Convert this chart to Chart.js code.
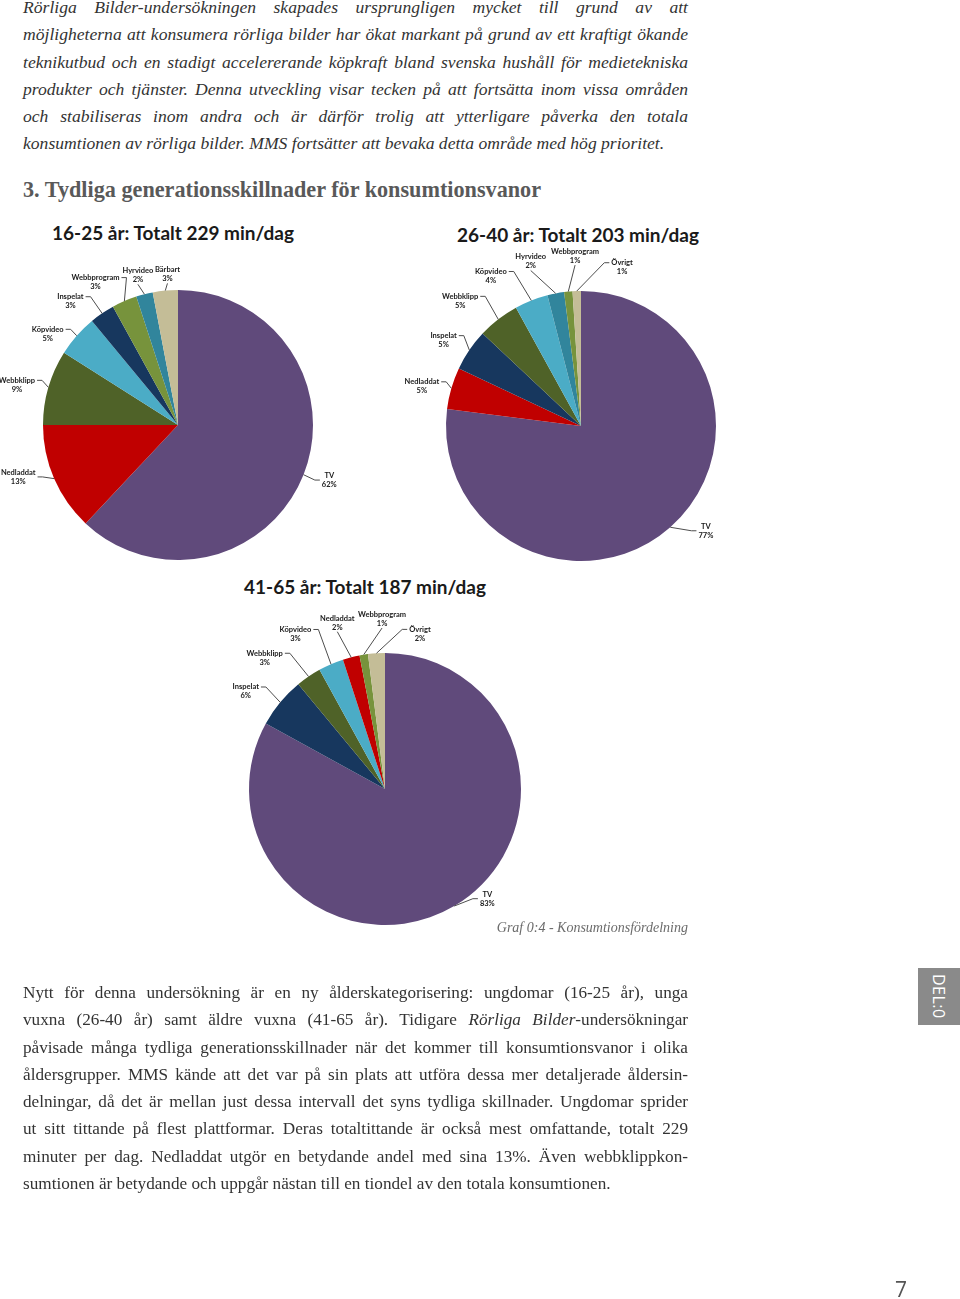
<!DOCTYPE html>
<html lang="sv">
<head>
<meta charset="utf-8">
<title>Konsumtionsfördelning</title>
<script src="https://cdn.jsdelivr.net/npm/chart.js@4.4.1/dist/chart.umd.min.js"></script>
<style>
  html, body { margin: 0; padding: 0; background: #fff; }
  body { width: 960px; height: 1299px; position: relative; overflow: hidden; }
  .layer { position: absolute; left: 0; top: 0; }
  .para { position: absolute; left: 23px; width: 665px; font-family: "Liberation Serif", serif; font-size: 17.2px; line-height: 27.3px; color: #333; }
  .para.it { font-style: italic; font-size: 17.6px; }
  .ln { text-align: justify; text-align-last: justify; height: 27.3px; }
  .ln.last { text-align-last: left; }
  .heading { position: absolute; left: 23px; top: 177px; font-family: "Liberation Serif", serif; font-weight: bold; font-size: 22.2px; color: #595959; white-space: nowrap; }
  .ctitle { position: absolute; font-family: Lato, sans-serif; font-weight: bold; font-size: 19px; color: #1a1a1a; white-space: nowrap; transform: translateX(-50%); }
  .caption { position: absolute; right: 272px; top: 920px; font-family: "Liberation Serif", serif; font-style: italic; font-size: 14px; color: #6b6b6b; }
  .tab { position: absolute; left: 918px; top: 968px; width: 42px; height: 57px; background: #8a8a8a; color: #fff;
         font-family: "Open Sans", sans-serif; font-size: 16px; writing-mode: vertical-rl; display: flex; align-items: center; justify-content: center; letter-spacing: 0.5px; }
  .pageno { position: absolute; left: 895px; top: 1275px; font-family: "Open Sans", sans-serif; font-size: 21px; color: #555; }
</style>
</head>
<body>

<div class="para it" style="top:-6px">
  <div class="ln">Rörliga Bilder-undersökningen skapades ursprungligen mycket till grund av att</div>
  <div class="ln">möjligheterna att konsumera rörliga bilder har ökat markant på grund av ett kraftigt ökande</div>
  <div class="ln">teknikutbud och en stadigt accelererande köpkraft bland svenska hushåll för medietekniska</div>
  <div class="ln">produkter och tjänster. Denna utveckling visar tecken på att fortsätta inom vissa områden</div>
  <div class="ln">och stabiliseras inom andra och är därför trolig att ytterligare påverka den totala</div>
  <div class="ln last">konsumtionen av rörliga bilder. MMS fortsätter att bevaka detta område med hög prioritet.</div>
</div>

<div class="heading">3. Tydliga generationsskillnader för konsumtionsvanor</div>

<div class="ctitle" style="left:173px; top:221px">16-25 år: Totalt 229 min/dag</div>
<div class="ctitle" style="left:578px; top:223px">26-40 år: Totalt 203 min/dag</div>
<div class="ctitle" style="left:365px; top:575px">41-65 år: Totalt 187 min/dag</div>

<canvas id="pie1" class="layer" width="960" height="1299"></canvas>
<canvas id="pie2" class="layer" width="960" height="1299"></canvas>
<canvas id="pie3" class="layer" width="960" height="1299"></canvas>

<div class="caption">Graf 0:4 - Konsumtionsfördelning</div>

<div class="para" style="top:979px">
  <div class="ln">Nytt för denna undersökning är en ny ålderskategorisering: ungdomar (16-25 år), unga</div>
  <div class="ln">vuxna (26-40 år) samt äldre vuxna (41-65 år). Tidigare <i>Rörliga Bilder</i>-undersökningar</div>
  <div class="ln">påvisade många tydliga generationsskillnader när det kommer till konsumtionsvanor i olika</div>
  <div class="ln">åldersgrupper. MMS kände att det var på sin plats att utföra dessa mer detaljerade åldersin-</div>
  <div class="ln">delningar, då det är mellan just dessa intervall det syns tydliga skillnader. Ungdomar sprider</div>
  <div class="ln">ut sitt tittande på flest plattformar. Deras totaltittande är också mest omfattande, totalt 229</div>
  <div class="ln">minuter per dag. Nedladdat utgör en betydande andel med sina 13%. Även webbklippkon-</div>
  <div class="ln last">sumtionen är betydande och uppgår nästan till en tiondel av den totala konsumtionen.</div>
</div>

<div class="tab">DEL:0</div>
<div class="pageno">7</div>

<script>
// data, andel i procent, medurs från kl 12
const kategorier1 = ['TV', 'Nedladdat', 'Webbklipp', 'Köpvideo', 'Inspelat', 'Webbprogram', 'Hyrvideo', 'Bärbart'];
const andel1 = [62, 13, 9, 5, 3, 3, 2, 3];

const kategorier2 = ['TV', 'Nedladdat', 'Inspelat', 'Webbklipp', 'Köpvideo', 'Hyrvideo', 'Webbprogram', 'Övrigt'];
const andel2 = [77, 5, 5, 5, 4, 2, 1, 1];

const kategorier3 = ['TV', 'Inspelat', 'Webbklipp', 'Köpvideo', 'Nedladdat', 'Webbprogram', 'Övrigt'];
const andel3 = [83, 6, 3, 3, 2, 1, 2];

// samma färg för samma kategori i alla tre diagram
const farger = {
  'TV': '#604A7B',
  'Nedladdat': '#C00000',
  'Webbklipp': '#4F6228',
  'Köpvideo': '#4BACC6',
  'Inspelat': '#17375E',
  'Webbprogram': '#77933C',
  'Hyrvideo': '#31859C',
  'Bärbart': '#C4BD97',
  'Övrigt': '#C4BD97'
};

// var etiketterna hamnar: vinkel (grader medurs från kl 12) och avstånd från mitten
const etikettVinkel1 = [110, 252, 284, 305, 319, 330, 345, 356];
const etikettAvstand1 = [161, 168, 166, 159, 164, 165, 155, 151];
const etikettVinkel2 = [130, 284, 302, 316, 329, 343, 358, 14.5];
const etikettAvstand2 = [163, 164, 162, 174, 175, 172, 170, 164];
const etikettVinkel3 = [137, 305, 317.5, 330, 344, 359, 12.7];
const etikettAvstand3 = [150, 170, 178, 179, 173, 170, 159];

// etiketter med hävarm, ungefär som i Excel
const pieLabels = {
  id: 'pieLabels',
  afterDatasetsDraw(chart, args, opts) {
    const ctx = chart.ctx;
    const meta = chart.getDatasetMeta(0);
    const values = chart.data.datasets[0].data;
    ctx.save();
    ctx.font = 'bold 7.5px Lato, sans-serif';
    ctx.textAlign = 'center';
    ctx.textBaseline = 'middle';
    ctx.lineWidth = 1;
    meta.data.forEach((arc, i) => {
      const p = arc.getProps(['x', 'y', 'startAngle', 'endAngle', 'outerRadius'], true);
      const mid = (p.startAngle + p.endAngle) / 2;
      const ax = p.x + Math.cos(mid) * p.outerRadius;
      const ay = p.y + Math.sin(mid) * p.outerRadius;
      const th = opts.angles[i] * Math.PI / 180;
      const lx = p.x + Math.sin(th) * opts.dists[i];
      const ly = p.y - Math.cos(th) * opts.dists[i];
      const name = chart.data.labels[i];
      const pct = values[i] + '%';
      const w1 = ctx.measureText(name).width;
      const w2 = ctx.measureText(pct).width;

      ctx.strokeStyle = '#4d4d4d';
      ctx.beginPath();
      ctx.moveTo(ax, ay);
      if (Math.abs(lx - ax) < 0.8 * Math.abs(ly - ay)) {
        ctx.lineTo(lx, ly + 9);
      } else {
        const side = lx < ax ? 1 : -1;
        const ey = ly < p.y ? ly - 4.5 : ly;
        const ex = lx + side * (Math.max(w1, w2) / 2 + 2);
        ctx.lineTo(ex + side * 5, ey);
        ctx.lineTo(ex, ey);
      }
      ctx.stroke();

      ctx.fillStyle = '#1a1a1a';
      ctx.fillText(name, lx, ly - 4.5);
      ctx.fillText(pct, lx, ly + 4.5);
    });
    ctx.restore();
  }
};

function ritaPaj(id, kategorier, andel, omrade, vinklar, avstand) {
  new Chart(document.getElementById(id), {
    type: 'pie',
    data: {
      labels: kategorier,
      datasets: [{
        data: andel,
        backgroundColor: kategorier.map(k => farger[k]),
        borderWidth: 0
      }]
    },
    options: {
      responsive: false,
      animation: false,
      devicePixelRatio: 1,
      layout: {
        padding: { left: omrade[0], top: omrade[1], right: 960 - omrade[2], bottom: 1299 - omrade[3] }
      },
      plugins: {
        legend: { display: false },
        tooltip: { enabled: false },
        pieLabels: { angles: vinklar, dists: avstand }
      }
    },
    plugins: [pieLabels]
  });
}

ritaPaj('pie1', kategorier1, andel1, [43, 290, 313, 560], etikettVinkel1, etikettAvstand1);
ritaPaj('pie2', kategorier2, andel2, [446, 291, 716, 561], etikettVinkel2, etikettAvstand2);
ritaPaj('pie3', kategorier3, andel3, [249, 653, 521, 925], etikettVinkel3, etikettAvstand3);
</script>
</body>
</html>
